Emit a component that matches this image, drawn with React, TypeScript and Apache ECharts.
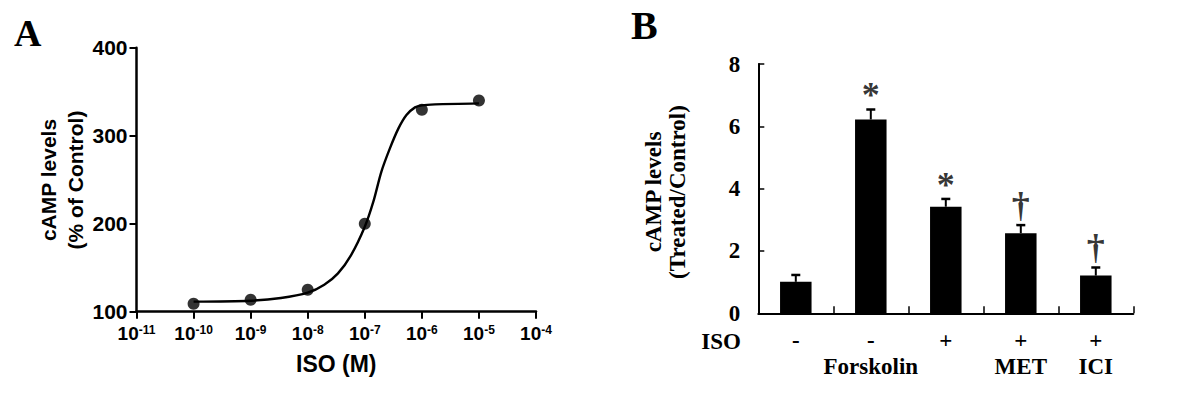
import React, { useEffect, useRef } from "react";
import * as echarts from "echarts";

// ---------- Panel A data ----------
const isoLogConc = [-10, -9, -8, -7, -6, -5];
const campPercent = [109, 113.5, 125, 200, 329.5, 340];
// fitted curve
const curveLog = [-10, -8.99, -8.47, -8, -7.71, -7.47, -7.24, -7, -6.85, -6.71, -6.56, -6.41, -6.27, -6.12, -6, -5.77, -5];
const curveVal = [111.4, 112.5, 115.5, 121.6, 130.7, 143.6, 164.4, 196.6, 225, 259, 285.6, 308.3, 323.5, 332.2, 334.5, 335.6, 336.7];
const yTicksA = [100, 200, 300, 400];

// ---------- Panel B data ----------
const groups = ["Control", "Forskolin", "ISO", "ISO+MET", "ISO+ICI"];
const isoRow = ["-", "-", "+", "+", "+"];
const treatRow = ["", "Forskolin", "", "MET", "ICI"];
const ratioValues = [1.01, 6.22, 3.42, 2.57, 1.21];
const ratioErrors = [0.22, 0.32, 0.25, 0.26, 0.26];
const significance = ["", "*", "*", "\u2020", "\u2020"];

const SANS = "'Liberation Sans', Arial, sans-serif";
const SERIF = "'Liberation Serif', 'Times New Roman', serif";

export default function App() {
  const ref = useRef<HTMLDivElement>(null);
  useEffect(() => {
    if (!ref.current) return;
    const chart = echarts.init(ref.current, undefined, { renderer: "svg" });

    const option: any = {
      animation: false,
      backgroundColor: "#ffffff",
      grid: [
        { left: 136.5, top: 47.7, width: 399.5, height: 264, containLabel: false },
        { left: 758.3, top: 64, width: 375, height: 249.3, containLabel: false },
      ],
      xAxis: [
        {
          gridIndex: 0,
          type: "value",
          min: -11,
          max: -4,
          interval: 1,
          axisLine: { show: true, onZero: false, lineStyle: { color: "#000", width: 2.5 } },
          axisTick: { show: true, inside: false, length: 7, lineStyle: { color: "#000", width: 2 } },
          splitLine: { show: false },
          axisLabel: {
            margin: 12,
            formatter: (v: number) => `{b|10}{s|${v}}`,
            rich: {
              b: { fontFamily: SANS, fontWeight: "bold", fontSize: 19, color: "#000", lineHeight: 20 },
              s: { fontFamily: SANS, fontWeight: "bold", fontSize: 12, color: "#000", lineHeight: 12, verticalAlign: "top" },
            },
          },
          name: "ISO (M)",
          nameLocation: "middle",
          nameGap: 41,
          nameTextStyle: { fontFamily: SANS, fontWeight: "bold", fontSize: 23, color: "#000" },
        },
        {
          gridIndex: 1,
          type: "category",
          data: groups,
          boundaryGap: true,
          axisLine: { show: true, onZero: false, lineStyle: { color: "#000", width: 2 } },
          axisTick: { show: true, inside: true, length: 7, alignWithLabel: false, lineStyle: { color: "#000", width: 1.5 } },
          splitLine: { show: false },
          axisLabel: {
            margin: 14,
            interval: 0,
            formatter: (_v: string, i: number) => `${isoRow[i]}\n${treatRow[i] || " "}`,
            fontFamily: SERIF,
            fontWeight: "bold",
            fontSize: 23,
            lineHeight: 26,
            color: "#000",
          },
        },
      ],
      yAxis: [
        {
          gridIndex: 0,
          type: "value",
          min: yTicksA[0],
          max: yTicksA[yTicksA.length - 1],
          interval: 100,
          axisLine: { show: true, onZero: false, lineStyle: { color: "#000", width: 2.5 } },
          axisTick: { show: true, inside: false, length: 7, lineStyle: { color: "#000", width: 2 } },
          splitLine: { show: false },
          axisLabel: { margin: 9, fontFamily: SANS, fontWeight: "bold", fontSize: 21, color: "#000" },
        },
        {
          gridIndex: 1,
          type: "value",
          min: 0,
          max: 8,
          interval: 2,
          axisLine: { show: true, onZero: false, lineStyle: { color: "#000", width: 2 } },
          axisTick: { show: true, inside: true, length: 6, lineStyle: { color: "#000", width: 1.5 } },
          splitLine: { show: false },
          axisLabel: { margin: 18, fontFamily: SERIF, fontWeight: "bold", fontSize: 23, color: "#000" },
        },
      ],
      series: [
        {
          type: "line",
          xAxisIndex: 0,
          yAxisIndex: 0,
          data: curveLog.map((x, i) => [x, curveVal[i]]),
          smooth: 0.3,
          showSymbol: false,
          lineStyle: { color: "#000", width: 2.4 },
          z: 2,
        },
        {
          type: "scatter",
          xAxisIndex: 0,
          yAxisIndex: 0,
          data: isoLogConc.map((x, i) => [x, campPercent[i]]),
          symbol: "circle",
          symbolSize: 12,
          itemStyle: { color: "#000" },
          z: 3,
        },
        {
          type: "bar",
          xAxisIndex: 1,
          yAxisIndex: 1,
          data: ratioValues,
          barWidth: "42%",
          itemStyle: { color: "#000" },
          z: 2,
        },
        {
          type: "custom",
          xAxisIndex: 1,
          yAxisIndex: 1,
          data: ratioValues.map((v, i) => [i, v, ratioErrors[i]]),
          encode: { x: 0, y: 1 },
          z: 3,
          renderItem: (_params: any, api: any) => {
            const i = api.value(0);
            const v = api.value(1);
            const e = api.value(2);
            const base = api.coord([i, v]);
            const top = api.coord([i, v + e]);
            return {
              type: "group",
              children: [
                { type: "line", shape: { x1: base[0], y1: base[1], x2: top[0], y2: top[1] }, style: { stroke: "#000", lineWidth: 2 } },
                { type: "line", shape: { x1: top[0] - 4.5, y1: top[1], x2: top[0] + 4.5, y2: top[1] }, style: { stroke: "#000", lineWidth: 2.5 } },
              ],
            };
          },
        },
        {
          type: "scatter",
          xAxisIndex: 1,
          yAxisIndex: 1,
          symbolSize: 0,
          silent: true,
          z: 4,
          data: ratioValues.map((v, i) => {
            const mark = significance[i];
            const isStar = mark === "*";
            return {
              value: [i, v + ratioErrors[i]],
              label: {
                show: mark !== "",
                position: "top",
                formatter: mark,
                distance: isStar ? -4 : 2,
                fontFamily: SERIF,
                fontWeight: "bold",
                fontSize: isStar ? 36 : 36,
                color: "#000",
              },
            };
          }),
        },
      ],
      graphic: [
        { type: "text", left: 14, top: 14, style: { text: "A", fontFamily: SERIF, fontWeight: "bold", fontSize: 38, fill: "#000" } },
        { type: "text", left: 631, top: 5, style: { text: "B", fontFamily: SERIF, fontWeight: "bold", fontSize: 40, fill: "#000" } },
        { type: "text", x: 48, y: 180, rotation: Math.PI / 2, style: { text: "cAMP levels", fontFamily: SANS, fontWeight: "bold", fontSize: 21, fill: "#000", align: "center", verticalAlign: "middle" } },
        { type: "text", x: 75, y: 180, rotation: Math.PI / 2, style: { text: "(% of Control)", fontFamily: SANS, fontWeight: "bold", fontSize: 21, fill: "#000", align: "center", verticalAlign: "middle" } },
        { type: "text", x: 653, y: 192, rotation: Math.PI / 2, style: { text: "cAMP levels", fontFamily: SERIF, fontWeight: "bold", fontSize: 23, fill: "#000", align: "center", verticalAlign: "middle" } },
        { type: "text", x: 677, y: 192, rotation: Math.PI / 2, style: { text: "(Treated/Control)", fontFamily: SERIF, fontWeight: "bold", fontSize: 23, fill: "#000", align: "center", verticalAlign: "middle" } },
        { type: "text", x: 721, y: 341, style: { text: "ISO", fontFamily: SERIF, fontWeight: "bold", fontSize: 23, fill: "#000", align: "center", verticalAlign: "middle" } },
      ],
    };

    chart.setOption(option);
    return () => chart.dispose();
  }, []);

  return (
    <div
      ref={ref}
      style={{ position: "fixed", left: 0, top: 0, width: 1200, height: 414, background: "#fff" }}
    />
  );
}
